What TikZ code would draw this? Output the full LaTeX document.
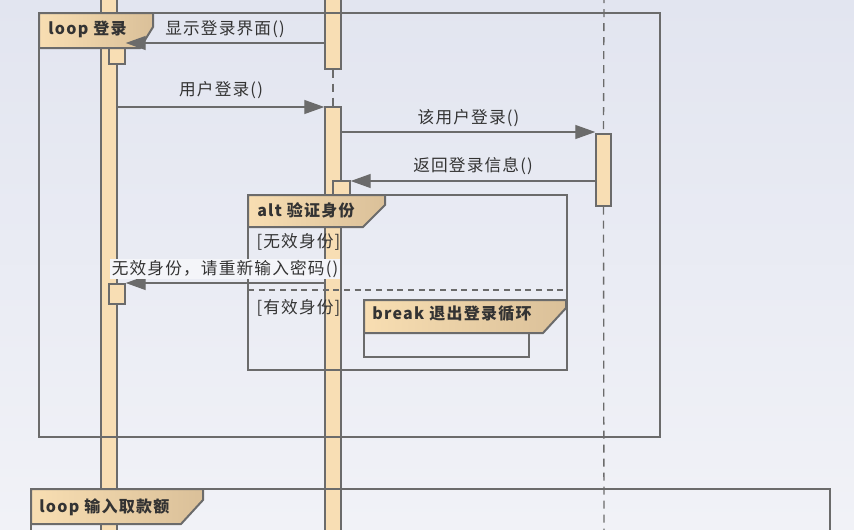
\documentclass[tikz,border=0pt]{standalone}
\usepackage{fontspec}
\setmainfont{Noto Sans CJK SC}
\newfontfamily\msgfont[LetterSpace=7]{Noto Sans CJK SC}
\newfontfamily\tagfont[LetterSpace=8]{Noto Sans CJK SC}
\usetikzlibrary{positioning,arrows.meta,fit}

\definecolor{bgtop}{HTML}{E2E5F0}
\definecolor{bgbot}{HTML}{F1F2F7}
\definecolor{barfill}{HTML}{F8DEB4}
\definecolor{edgegray}{HTML}{6B6B6B}
\definecolor{txtgray}{HTML}{333333}
\definecolor{hdrlight}{HTML}{F8DEB2}
\definecolor{hdrdark}{HTML}{DAC099}
\definecolor{lblbg}{HTML}{F4F5F9}

\begin{document}
\begin{tikzpicture}[
    x=0.75pt, y=-0.75pt,
    bar/.style={draw=edgegray, fill=barfill, line width=1.1pt, inner sep=0pt},
    life/.style={draw=edgegray, line width=1pt, dash pattern=on 6pt off 4.5pt},
    msg/.style={draw=edgegray, line width=1pt, -{Triangle[length=15pt,width=10.5pt]}},
    lbl/.style={font=\msgfont\fontsize{12.5}{14}\selectfont, text=txtgray, inner sep=1pt},
    frm/.style={draw=edgegray, line width=1.5pt},
    hdr/.style={draw=edgegray, line width=1.5pt, left color=hdrlight, right color=hdrdark},
    tag/.style={font=\tagfont\bfseries\fontsize{12}{14}\selectfont, text=txtgray, anchor=west, inner sep=0pt},
  ]
  \useasboundingbox (0,0) rectangle (854,529);
  \clip (0,0) rectangle (854,529);
  \shade[top color=bgtop, bottom color=bgbot] (0,0) rectangle (854,529);

  % lifelines and activations
  \node[bar, fit={(101,-5) (117,535)}] (leftLife) {};
  \node[bar, fit={(325,-5) (341,69)}] (midA) {};
  \node[bar, fit={(325,107) (341,535)}] (midB) {};
  \draw[life] (midA.south) -- (midB.north);
  \coordinate (rtop) at (604,-5);
  \coordinate (rbot) at (604,535);
  \node[bar, fit={(596,134) (611,206)}] (rightAct) {};
  \draw[life] (rtop) -- (rightAct.north);
  \draw[life] (rightAct.south) -- (rbot);
  \node[bar, fit={(109,40) (125,64)}] (nestL1) {};
  \node[bar, fit={(109,284) (125,304)}] (nestL2) {};
  \node[bar, fit={(333,181) (350,205)}] (nestM) {};

  % frames
  \draw[frm] (39,13) rectangle (660,437);
  \shadedraw[hdr] (39,13) -- (153,13) -- (153,27) -- (140,48) -- (39,48) -- cycle;
  \node[tag] (loopA) at (48,29) {loop 登录};

  \draw[frm] (248,195) rectangle (567,370);
  \draw[edgegray, line width=1pt, dash pattern=on 4.5pt off 3.5pt] (248,290) -- (567,290);
  \shadedraw[hdr] (248,195) -- (385,195) -- (385,205) -- (363,227) -- (248,227) -- cycle;
  \node[tag] (altA) at (257,210) {alt 验证身份};

  \draw[frm] (364,300) rectangle (529,357);
  \shadedraw[hdr] (364,300) -- (566,300) -- (566,308) -- (543,333) -- (364,333) -- cycle;
  \node[tag] (brkA) at (372,314) {break 退出登录循环};

  \draw[frm] (31,489) rectangle (830,545);
  \shadedraw[hdr] (31,489) -- (203,489) -- (203,500) -- (181,524) -- (31,524) -- cycle;
  \node[tag] (loopB) at (39,507) {loop 输入取款额};

  % messages
  \coordinate (y1) at (0,43);
  \coordinate (y2) at (0,107);
  \coordinate (y3) at (0,132);
  \coordinate (y4) at (0,181);
  \coordinate (y5) at (0,283);
  \draw[msg] (midA.west |- y1) -- (nestL1.east |- y1)
    node[lbl, midway, above=2.5pt] (t1) {显示登录界面()};
  \draw[msg] (leftLife.east |- y2) -- (midB.west |- y2)
    node[lbl, midway, above=4.5pt] (t2) {用户登录()};
  \draw[msg] (midB.east |- y3) -- (rightAct.west |- y3)
    node[lbl, midway, above=2.5pt] (t3) {该用户登录()};
  \draw[msg] (rightAct.west |- y4) -- (nestM.east |- y4)
    node[lbl, midway, above=3.5pt] (t4) {返回登录信息()};
  \draw[msg] (midB.west |- y5) -- (nestL2.east |- y5)
    node[lbl, midway, above=2.5pt, fill=lblbg] (t5) {无效身份，请重新输入密码()};

  % guards
  \node[lbl, anchor=west] (g1) at (255,242) {[无效身份]};
  \node[lbl, anchor=west] (g2) at (255,308) {[有效身份]};
\end{tikzpicture}
\end{document}
